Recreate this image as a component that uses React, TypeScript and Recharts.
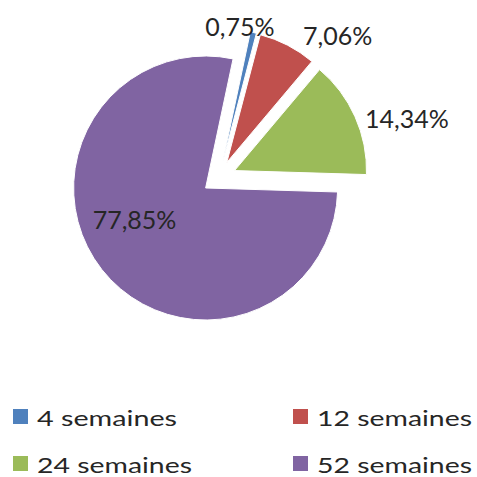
import React from 'react';
import { PieChart, Pie, Cell, Legend } from 'recharts';

const categories = ['4 semaines', '12 semaines', '24 semaines', '52 semaines'];
const values = [0.75, 7.06, 14.34, 77.85];
const valueLabels = ['0,75%', '7,06%', '14,34%', '77,85%'];
const colors = ['#4F81BD', '#C0504D', '#9BBB59', '#8064A2'];

const W = 477;
const H = 477;
const CX = 219;
const CY = 177.5;
const R = 132;
const START = 78;
const END = START - 360;
const EXPLODE = 17;
const FONT = 'Lato, "Noto Sans", sans-serif';
const TEXT_COLOR = '#262626';
// label placement (radius, angle in degrees) relative to each exploded slice centre
const labelPolar = [
  { r: 136, a: 82.8 },
  { r: 168.8, a: 49 },
  { r: 180.3, a: 17 },
  { r: 77.6, a: -156.4 },
];
// legend text widths (the reference legend text is horizontally wide)
const legendTextWidths = [140, 155, 155, 155];

const data = categories.map((name, i) => ({ name, value: values[i], label: valueLabels[i] }));
const total = values.reduce((a, b) => a + b, 0);
const midAngles = (() => {
  let cum = 0;
  return values.map((v) => {
    const m = START - ((cum + v / 2) / total) * 360;
    cum += v;
    return m;
  });
})();

const RAD = Math.PI / 180;

const LegendContent = () => (
  <svg width={W} height={82} style={{ display: 'block' }}>
    {categories.map((c, i) => {
      const col = i % 2;
      const row = Math.floor(i / 2);
      const sx = [13, 293][col];
      const tx = [37, 317][col];
      const y0 = 14 + row * 47;
      return (
        <g key={c}>
          <rect x={sx} y={y0} width={15} height={15} fill={colors[i]} />
          <text
            x={tx}
            y={y0 + 8.5}
            dominantBaseline="central"
            fontFamily={FONT}
            fontSize={22}
            fill={TEXT_COLOR}
            textLength={legendTextWidths[i]}
            lengthAdjust="spacingAndGlyphs"
          >
            {c}
          </text>
        </g>
      );
    })}
  </svg>
);

export default function App() {
  return (
    <div style={{ position: 'absolute', left: 0, top: 0, width: W, height: H, background: '#fff', overflow: 'hidden' }}>
      <PieChart width={W} height={H} margin={{ top: 0, right: 0, bottom: 0, left: 0 }}>
        {categories.map((_, i) => {
          const m = midAngles[i] * RAD;
          const cx = CX + EXPLODE * Math.cos(m);
          const cy = CY - EXPLODE * Math.sin(m);
          return (
            <Pie
              key={'pie' + i}
              data={data}
              dataKey="value"
              nameKey="name"
              cx={cx}
              cy={cy}
              outerRadius={R}
              innerRadius={0}
              startAngle={START}
              endAngle={END}
              isAnimationActive={false}
              labelLine={false}
              label={(p: any) => {
                if (p.index !== i) return null;
                const lp = labelPolar[i];
                const x = cx + lp.r * Math.cos(lp.a * RAD);
                const y = cy - lp.r * Math.sin(lp.a * RAD);
                return (
                  <text
                    key={'lbl' + i}
                    x={x}
                    y={y}
                    textAnchor="middle"
                    dominantBaseline="central"
                    fontFamily={FONT}
                    fontSize={25}
                    fill={TEXT_COLOR}
                  >
                    {valueLabels[i]}
                  </text>
                );
              }}
            >
              {data.map((d, j) => (
                <Cell
                  key={d.name}
                  fill={j === i ? colors[j] : 'none'}
                  stroke={j === i ? '#ffffff' : 'none'}
                  strokeWidth={1}
                />
              ))}
            </Pie>
          );
        })}
        <Legend
          verticalAlign="bottom"
          content={() => <LegendContent />}
          wrapperStyle={{ left: 0, top: 395, width: W, height: 82 }}
        />
      </PieChart>
    </div>
  );
}
